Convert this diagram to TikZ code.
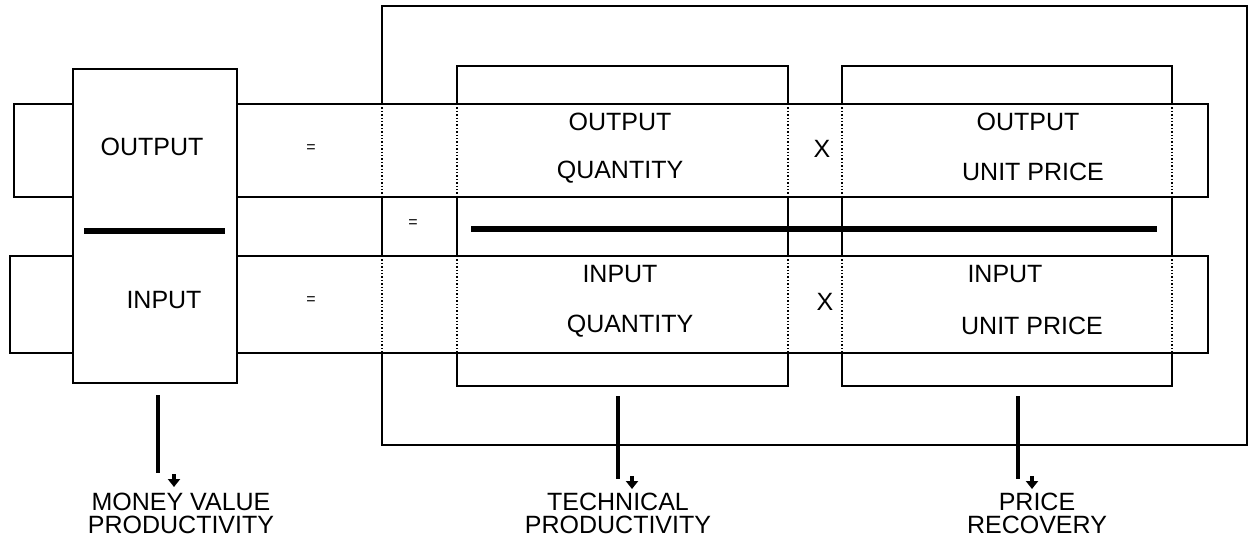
\documentclass[tikz,border=0pt]{standalone}
\usepackage{fontspec}
\setmainfont{Liberation Sans}
\usetikzlibrary{arrows.meta}
\tikzset{
  edge/.style={draw, line width=0.8pt},
  gap/.style={draw, line width=0.7pt, densely dotted},
  lbl/.style={font=\fontsize{12.5}{11.5}\selectfont, inner sep=0pt, align=center},
  eqsign/.style={font=\fontsize{8}{9}\selectfont, inner sep=0pt},
  bar/.style={draw, line width=3pt},
  lead/.style={draw, line width=1.8pt},
  tip/.style={draw, -{Triangle[length=4pt,width=6pt]}, line width=1.8pt}
}

\begin{document}
\begin{tikzpicture}[x=0.5pt,y=-0.5pt]
\useasboundingbox (0,0) rectangle (1252,542);
% row bands
\path[edge] (14,104) rectangle (1208,197);
\path[edge] (10,256) rectangle (1208,353);
% money value box
\path[edge, fill=white] (73,69) rectangle (237,383);
\path[bar] (84,231) -- (225,231);
% outer box and the two inner boxes
\path[edge] (382,104) -- (382,6) -- (1247,6) -- (1247,445) -- (382,445) -- (382,353);
\path[edge] (457,104) -- (457,66) -- (788,66) -- (788,104);
\path[edge] (457,353) -- (457,386) -- (788,386) -- (788,353);
\path[edge] (842,104) -- (842,66) -- (1172,66) -- (1172,104);
\path[edge] (842,353) -- (842,386) -- (1172,386) -- (1172,353);
\foreach \x in {382,457,788,842,1172} {
  \path[gap] (\x,104) -- (\x,197);
  \path[gap] (\x,256) -- (\x,353);
  \path[edge] (\x,197) -- (\x,256);
}
\path[bar] (471,229) -- (1157,229);
%
\node[lbl] (mvout) at (152,147) {OUTPUT};
\node[lbl] (mvin) at (164,300) {INPUT};
\node[eqsign] (eqout) at (311,149) {=};
\node[eqsign] (eqmid) at (413,224) {=};
\node[eqsign] (eqin) at (311,301) {=};
%
\node[lbl] (tqout) at (620,122) {OUTPUT};
\node[lbl] (tqoutq) at (620,172) {QUANTITY};
\node[lbl] (tqin) at (620,274) {INPUT};
\node[lbl] (tqinq) at (630,326) {QUANTITY};
\node[lbl] (xout) at (822,149) {X};
\node[lbl] (xin) at (825,302) {X};
\node[lbl] (upout) at (1028,122) {OUTPUT};
\node[lbl] (upoutp) at (1033,172) {UNIT PRICE};
\node[lbl] (upin) at (1005,274) {INPUT};
\node[lbl] (upinp) at (1032,326) {UNIT PRICE};
%
\node[lbl] (mvp) at (181,513) {MONEY VALUE\\PRODUCTIVITY};
\node[lbl] (tp) at (618,513) {TECHNICAL\\PRODUCTIVITY};
\node[lbl] (pr) at (1037,513) {PRICE\\RECOVERY};
%
\coordinate (mvtop) at (158,395);
\coordinate (mvbot) at (158,473);
\coordinate (tptop) at (618,396);
\coordinate (tpbot) at (618,479);
\coordinate (prtop) at (1018,396);
\coordinate (prbot) at (1018,479);
\path[lead] (mvtop) -- (mvbot);
\path[lead] (tptop) -- (tpbot);
\path[lead] (prtop) -- (prbot);
\path[tip] (174,474) -- (174,487);
\path[tip] (632,476) -- (632,489);
\path[tip] (1032,476) -- (1032,489);
\end{tikzpicture}
\end{document}
